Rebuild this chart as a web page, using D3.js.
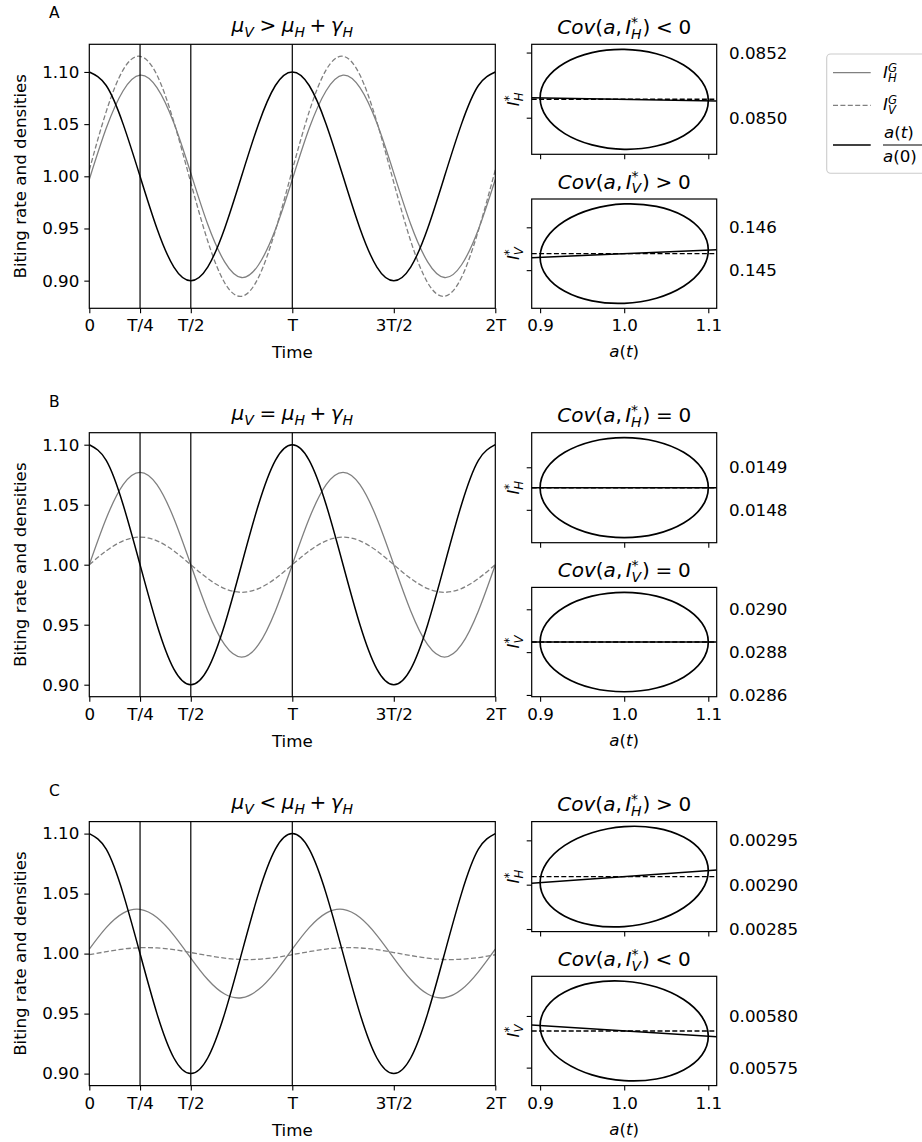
<!DOCTYPE html>
<html><head><meta charset="utf-8">
<script src="https://cdn.jsdelivr.net/npm/d3@7"></script>
<style>
body{margin:0;background:#fff;}
svg text{font-family:"DejaVu Sans",sans-serif;fill:#000;}
</style>
</head><body>
<svg id="chart" width="922" height="1142"></svg>
<script>
// ---------------- DATA ----------------
const panelLetters = ["A", "B", "C"];
const timeTicks = [0, 0.25, 0.5, 1, 1.5, 2];
const timeTickLabels = ["0", "T/4", "T/2", "T", "3T/2", "2T"];
const markerTimes = [0.25, 0.5, 1];
const mainYTicks = [0.90, 0.95, 1.00, 1.05, 1.10];

// time grid in units of T
const tGrid = [0,0.0833,0.1667,0.25,0.3333,0.4167,0.5,0.5833,0.6667,0.75,0.8333,0.9167,
  1,1.0833,1.1667,1.25,1.3333,1.4167,1.5,1.5833,1.6667,1.75,1.8333,1.9167,2];

// a(t)/a(0) (same in all panels)
const biting = [1.100,1.087,1.050,1.000,0.950,0.913,0.900,0.913,0.950,1.000,1.050,1.087,
  1.100,1.087,1.050,1.000,0.950,0.913,0.900,0.913,0.950,1.000,1.050,1.087,1.100];

const A_IHG = [0.997,1.046,1.082,1.097,1.085,1.051,1.003,0.954,0.918,0.903,0.915,0.949,
  0.997,1.046,1.082,1.097,1.085,1.051,1.003,0.954,0.918,0.903,0.915,0.949,0.997];
const A_IVG = [1.006,1.062,1.102,1.115,1.097,1.052,0.994,0.938,0.898,0.885,0.903,0.948,
  1.006,1.062,1.102,1.115,1.097,1.052,0.994,0.938,0.898,0.885,0.903,0.948,1.006];
const B_IHG = [1.000,1.0385,1.0667,1.077,1.0667,1.0385,1.000,0.9615,0.9333,0.923,0.9333,0.9615,
  1.000,1.0385,1.0667,1.077,1.0667,1.0385,1.000,0.9615,0.9333,0.923,0.9333,0.9615,1.000];
const B_IVG = [1.000,1.0115,1.0199,1.023,1.0199,1.0115,1.000,0.9885,0.9801,0.977,0.9801,0.9885,
  1.000,1.0115,1.0199,1.023,1.0199,1.0115,1.000,0.9885,0.9801,0.977,0.9801,0.9885,1.000];
const C_IHG = [1.0037,1.0216,1.0337,1.0368,1.0300,1.0152,0.9963,0.9784,0.9663,0.9632,0.9700,0.9848,
  1.0037,1.0216,1.0337,1.0368,1.0300,1.0152,0.9963,0.9784,0.9663,0.9632,0.9700,0.9848,1.0037];
const C_IVG = [0.9991,1.0016,1.0038,1.0049,1.0047,1.0033,1.0009,0.9984,0.9962,0.9951,0.9953,0.9967,
  0.9991,1.0016,1.0038,1.0049,1.0047,1.0033,1.0009,0.9984,0.9962,0.9951,0.9953,0.9967,0.9991];

// phase-plane cycles: a(t) over one period, and I* over the same period
const aCycle = [1.1,1.0924,1.0707,1.0383,1.0,0.9617,0.9293,0.9076,0.9,0.9076,0.9293,0.9617,1.0,1.0383,1.0707,1.0924];
const aTicks = [0.9, 1.0, 1.1];
const aTickLabels = ["0.9", "1.0", "1.1"];
const aFit = [0.89, 1.11];

const A_IHstar = [0.0850519,0.0851110,0.0851618,0.0851965,0.0852100,0.0852000,0.0851682,0.0851194,
  0.0850611,0.0850020,0.0849512,0.0849165,0.0849030,0.0849130,0.0849448,0.0849936];
const A_IHfit = [0.0850616, 0.0850514];
const A_IHmean = 0.0850565;
const A_IHticks = [0.0850, 0.0852];

const A_IVstar = [0.145470,0.145907,0.146265,0.146489,0.146545,0.146425,0.146146,0.145751,
  0.145300,0.144863,0.144505,0.144281,0.144225,0.144345,0.144624,0.145019];
const A_IVfit = [0.145292, 0.145478];
const A_IVmean = 0.145385;
const A_IVticks = [0.145, 0.146];

const B_IHstar = [0.0148520,0.0148970,0.0149351,0.0149606,0.0149695,0.0149606,0.0149351,0.0148970,
  0.0148520,0.0148070,0.0147689,0.0147434,0.0147345,0.0147434,0.0147689,0.0148070];
const B_IHfit = [0.014852, 0.014852];
const B_IHmean = 0.014852;
const B_IHticks = [0.0148, 0.0149];

const B_IVstar = [0.0288470,0.0289359,0.0290110,0.0290614,0.0290790,0.0290614,0.0290110,0.0289359,
  0.0288470,0.0287581,0.0286830,0.0286326,0.0286150,0.0286326,0.0286830,0.0287581];
const B_IVfit = [0.028847, 0.028847];
const B_IVmean = 0.028847;
const B_IVticks = [0.0286, 0.0288, 0.0290];

const C_IHstar = [0.0029158,0.0029369,0.0029537,0.0029638,0.0029655,0.0029586,0.0029443,0.0029245,
  0.0029024,0.0028813,0.0028645,0.0028544,0.0028527,0.0028596,0.0028739,0.0028937];
const C_IHfit = [0.0029017, 0.0029165];
const C_IHmean = 0.0029091;
const C_IHticks = [0.00285, 0.00290, 0.00295];

const C_IVstar = [0.0057804,0.0057992,0.0058159,0.0058280,0.0058336,0.0058320,0.0058232,0.0058087,
  0.0057906,0.0057718,0.0057551,0.0057430,0.0057374,0.0057390,0.0057478,0.0057623];
const C_IVfit = [0.0057912, 0.0057798];
const C_IVmean = 0.0057855;
const C_IVticks = [0.00575, 0.00580];

const relations = [">", "=", "<"];
const covH = ["<", "=", ">"];
const covV = [">", "=", "<"];

// ---------------- LAYOUT ----------------
const svg = d3.select("#chart");
const FS = 16.7, TFS = 20;
const mainL = 89.3, mainR = 495.3, mainH = 264;
const tops = [44.3, 432.7, 821.6];
const smL = 531.7, smR = 716.7, smTopH = 110, smBotOff = 154.7;
const greyC = "#808080";

let clipId = 0;
function clip(g, x, y, w, h) {
  const id = "clip" + (clipId++);
  svg.append("defs").append("clipPath").attr("id", id)
    .append("rect").attr("x", x).attr("y", y).attr("width", w).attr("height", h);
  return g.append("g").attr("clip-path", `url(#${id})`);
}

// math-like text made of pieces
function mathText(parent, x, y, parts, size, anchor) {
  const g = parent.append("g");
  let cx = 0;
  parts.forEach(p => {
    if (p.gap !== undefined) { cx += p.gap * size; return; }
    if (p.sub !== undefined || p.sup !== undefined) {
      let w = 0;
      if (p.sup !== undefined) {
        const t = g.append("text").attr("x", cx).attr("y", -size * 0.36)
          .attr("font-size", size * 0.7).attr("font-style", p.supUp ? "normal" : "italic").text(p.sup);
        w = Math.max(w, t.node().getComputedTextLength());
      }
      if (p.sub !== undefined) {
        const t = g.append("text").attr("x", cx).attr("y", size * 0.24)
          .attr("font-size", size * 0.7).attr("font-style", "italic").text(p.sub);
        w = Math.max(w, t.node().getComputedTextLength());
      }
      cx += w;
      return;
    }
    const t = g.append("text").attr("x", cx).attr("y", 0).attr("font-size", size)
      .attr("font-style", p.it ? "italic" : "normal").text(p.t);
    cx += t.node().getComputedTextLength();
  });
  const off = anchor === "middle" ? -cx / 2 : anchor === "end" ? -cx : 0;
  g.attr("transform", `translate(${x + off},${y})`);
  return g;
}

function styleAxis(g) {
  g.select(".domain").remove();
  g.selectAll(".tick line").attr("stroke", "#000").attr("stroke-width", 1.1);
  g.selectAll(".tick text").attr("font-size", FS).attr("font-family", "DejaVu Sans").attr("fill", "#000");
}

const mainSeries = [
  [A_IHG, A_IVG], [B_IHG, B_IVG], [C_IHG, C_IVG]
];
const smallData = [
  [{I: A_IHstar, fit: A_IHfit, mean: A_IHmean, ticks: A_IHticks, fmt: ".4f"},
   {I: A_IVstar, fit: A_IVfit, mean: A_IVmean, ticks: A_IVticks, fmt: ".3f"}],
  [{I: B_IHstar, fit: B_IHfit, mean: B_IHmean, ticks: B_IHticks, fmt: ".4f"},
   {I: B_IVstar, fit: B_IVfit, mean: B_IVmean, ticks: B_IVticks, fmt: ".4f"}],
  [{I: C_IHstar, fit: C_IHfit, mean: C_IHmean, ticks: C_IHticks, fmt: ".5f"},
   {I: C_IVstar, fit: C_IVfit, mean: C_IVmean, ticks: C_IVticks, fmt: ".5f"}]
];

function padded(ext) { const d = ext[1] - ext[0]; return [ext[0] - 0.05 * d, ext[1] + 0.05 * d]; }

const x = d3.scaleLinear().domain([0, 2]).range([mainL, mainR]);
const xa = d3.scaleLinear().domain(padded(d3.extent(aCycle))).range([smL, smR]);

panelLetters.forEach((letter, pi) => {
  const top = tops[pi], bot = top + mainH;
  const [IH, IV] = mainSeries[pi];
  const y = d3.scaleLinear()
    .domain(padded(d3.extent([...biting, ...IH, ...IV])))
    .range([bot, top]);

  // panel letter
  svg.append("text").attr("x", 49).attr("y", top - 26).attr("font-size", 15.5).text(letter);

  // title
  mathText(svg, (mainL + mainR) / 2, top - 12.5, [
    {t: "μ", it: true}, {sub: "V"}, {gap: 0.28}, {t: relations[pi]}, {gap: 0.28},
    {t: "μ", it: true}, {sub: "H"}, {gap: 0.22}, {t: "+"}, {gap: 0.22},
    {t: "γ", it: true}, {sub: "H"}
  ], TFS, "middle");

  const cg = clip(svg, mainL, top, mainR - mainL, mainH);
  // vertical markers
  markerTimes.forEach(v => {
    svg.append("line").attr("x1", x(v)).attr("x2", x(v)).attr("y1", top).attr("y2", bot)
      .attr("stroke", "#000").attr("stroke-width", 1.2);
  });
  const line = d3.line().x((d, i) => x(tGrid[i])).y(d => y(d)).curve(d3.curveNatural);
  cg.append("path").datum(IH).attr("d", line).attr("fill", "none").attr("stroke", greyC).attr("stroke-width", 1.3);
  cg.append("path").datum(IV).attr("d", line).attr("fill", "none").attr("stroke", greyC).attr("stroke-width", 1.3)
    .attr("stroke-dasharray", "5,2.4");
  cg.append("path").datum(biting).attr("d", line).attr("fill", "none").attr("stroke", "#000").attr("stroke-width", 1.5);

  // axes
  const ya = svg.append("g").attr("transform", `translate(${mainL},0)`)
    .call(d3.axisLeft(y).tickValues(mainYTicks).tickFormat(d3.format(".2f")).tickSize(5).tickPadding(5));
  styleAxis(ya);
  const xaG = svg.append("g").attr("transform", `translate(0,${bot})`)
    .call(d3.axisBottom(x).tickValues(timeTicks).tickFormat((d, i) => timeTickLabels[i]).tickSize(5).tickPadding(5));
  styleAxis(xaG);
  xaG.selectAll(".tick text").attr("dy", "0.78em");
  svg.append("rect").attr("x", mainL).attr("y", top).attr("width", mainR - mainL).attr("height", mainH)
    .attr("fill", "none").attr("stroke", "#000").attr("stroke-width", 1.2);

  svg.append("text").attr("x", (mainL + mainR) / 2).attr("y", bot + 50).attr("text-anchor", "middle")
    .attr("font-size", FS).text("Time");
  svg.append("text").attr("transform", `translate(25.5,${(top + bot) / 2}) rotate(-90)`)
    .attr("text-anchor", "middle").attr("font-size", FS).text("Biting rate and densities");

  // small panels
  smallData[pi].forEach((sd, si) => {
    const sTop = si === 0 ? top : top + smBotOff;
    const sBot = si === 0 ? top + smTopH : bot;
    const ys = d3.scaleLinear().domain(padded(d3.extent(sd.I))).range([sBot, sTop]);
    const sub = si === 0 ? "H" : "V";
    const cov = si === 0 ? covH[pi] : covV[pi];

    mathText(svg, (smL + smR) / 2, sTop - 10.5, [
      {t: "Cov", it: true}, {t: "("}, {t: "a", it: true}, {t: ","}, {gap: 0.17},
      {t: "I", it: true}, {sup: "*", sub: sub, supUp: true}, {gap: 0.05}, {t: ")"}, {gap: 0.28},
      {t: cov}, {gap: 0.28}, {t: "0"}
    ], TFS, "middle");

    const sc = clip(svg, smL, sTop, smR - smL, sBot - sTop);
    const ell = d3.line().x((d, i) => xa(aCycle[i])).y(d => ys(d)).curve(d3.curveCardinalClosed.tension(0));
    sc.append("path").datum(sd.I).attr("d", ell).attr("fill", "none").attr("stroke", "#000").attr("stroke-width", 1.7);
    sc.append("line").attr("x1", xa(aFit[0])).attr("x2", xa(aFit[1]))
      .attr("y1", ys(sd.mean)).attr("y2", ys(sd.mean))
      .attr("stroke", "#000").attr("stroke-width", 1.4).attr("stroke-dasharray", "5,2.4");
    sc.append("line").attr("x1", xa(aFit[0])).attr("x2", xa(aFit[1]))
      .attr("y1", ys(sd.fit[0])).attr("y2", ys(sd.fit[1]))
      .attr("stroke", "#000").attr("stroke-width", 1.5);

    const yg = svg.append("g").attr("transform", `translate(${smL},0)`)
      .call(d3.axisLeft(ys).tickValues(sd.ticks).tickFormat("").tickSize(5));
    styleAxis(yg);
    sd.ticks.forEach(tv => {
      svg.append("text").attr("x", 729).attr("y", ys(tv)).attr("dy", "0.36em")
        .attr("font-size", FS).text(d3.format(sd.fmt)(tv));
    });
    const xg = svg.append("g").attr("transform", `translate(0,${sBot})`)
      .call(d3.axisBottom(xa).tickValues(aTicks)
        .tickFormat(si === 0 ? "" : (d, i) => aTickLabels[i]).tickSize(5).tickPadding(5));
    styleAxis(xg);
    xg.selectAll(".tick text").attr("dy", "0.78em");
    svg.append("rect").attr("x", smL).attr("y", sTop).attr("width", smR - smL).attr("height", sBot - sTop)
      .attr("fill", "none").attr("stroke", "#000").attr("stroke-width", 1.2);

    const yl = svg.append("g").attr("transform", `translate(519,${(sTop + sBot) / 2}) rotate(-90)`);
    mathText(yl, 0, 0, [{t: "I", it: true}, {sup: "*", sub: sub, supUp: true}], FS, "middle");

    if (si === 1) {
      mathText(svg, (smL + smR) / 2, sBot + 49, [{t: "a", it: true}, {t: "("}, {t: "t", it: true}, {t: ")"}], FS, "middle");
    }
  });
});

// ---------------- LEGEND ----------------
const lg = svg.append("g");
lg.append("rect").attr("x", 826.7).attr("y", 54).attr("width", 110).attr("height", 119.3)
  .attr("rx", 4).attr("fill", "#fff").attr("fill-opacity", 0.8).attr("stroke", "#cccccc").attr("stroke-width", 1.1);
const legendItems = [
  {y: 72.7, color: greyC, dash: null, sub: "H"},
  {y: 105.3, color: greyC, dash: "5,2.4", sub: "V"},
  {y: 145, color: "#000", dash: null, sub: null}
];
legendItems.forEach(it => {
  const l = lg.append("line").attr("x1", 833).attr("x2", 870.7).attr("y1", it.y).attr("y2", it.y)
    .attr("stroke", it.color).attr("stroke-width", it.color === "#000" ? 1.5 : 1.3);
  if (it.dash) l.attr("stroke-dasharray", it.dash);
  if (it.sub) {
    mathText(lg, 883, it.y + 5, [{t: "I", it: true}, {sup: "G", sub: it.sub}], FS, "start");
  } else {
    mathText(lg, 884, it.y - 7.5, [{t: "a", it: true}, {t: "("}, {t: "t", it: true}, {t: ")"}], FS, "start");
    lg.append("line").attr("x1", 883).attr("x2", 925).attr("y1", it.y).attr("y2", it.y)
      .attr("stroke", "#000").attr("stroke-width", 1.1);
    mathText(lg, 883, it.y + 16.5, [{t: "a", it: true}, {t: "(0)"}], FS, "start");
  }
});
</script>
</body></html>
